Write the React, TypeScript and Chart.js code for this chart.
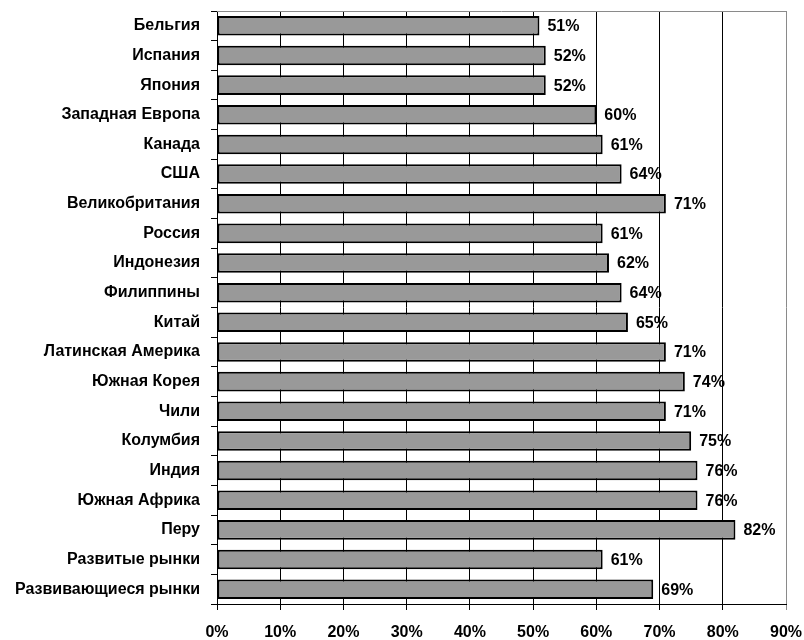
import React, { useEffect, useRef } from "react";
import { Chart, registerables } from "chart.js";

Chart.register(...registerables);

const categories: string[] = [
  "Бельгия",
  "Испания",
  "Япония",
  "Западная Европа",
  "Канада",
  "США",
  "Великобритания",
  "Россия",
  "Индонезия",
  "Филиппины",
  "Китай",
  "Латинская Америка",
  "Южная Корея",
  "Чили",
  "Колумбия",
  "Индия",
  "Южная Африка",
  "Перу",
  "Развитые рынки",
  "Развивающиеся рынки",
];

const shares: number[] = [51, 52, 52, 60, 61, 64, 71, 61, 62, 64, 65, 71, 74, 71, 75, 76, 76, 82, 61, 69];

const axisMin = 0;
const axisMax = 90;
const axisStep = 10;

const FONT = '"Liberation Sans", Arial, sans-serif';

// Writes each bar's percentage just past its end and draws the frame's top edge.
const barLabels = {
  id: "barLabels",
  afterDatasetsDraw(chart: any) {
    const { ctx, chartArea } = chart;
    ctx.save();
    ctx.strokeStyle = "#8a8a8a";
    ctx.lineWidth = 1;
    ctx.beginPath();
    ctx.moveTo(chartArea.left, chartArea.top + 0.5);
    ctx.lineTo(chartArea.right, chartArea.top + 0.5);
    ctx.stroke();

    const meta = chart.getDatasetMeta(0);
    ctx.font = `bold 16px ${FONT}`;
    ctx.fillStyle = "#000";
    ctx.textAlign = "left";
    ctx.textBaseline = "middle";
    meta.data.forEach((bar: any, i: number) => {
      ctx.fillText(`${shares[i]}%`, bar.x + 8, bar.y + 1);
    });
    ctx.restore();
  },
};

export default function App() {
  const canvasRef = useRef<HTMLCanvasElement | null>(null);

  useEffect(() => {
    if (!canvasRef.current) return;
    const chart = new Chart(canvasRef.current, {
      type: "bar",
      data: {
        labels: categories,
        datasets: [
          {
            data: shares,
            backgroundColor: "#999999",
            borderColor: "#000000",
            borderWidth: 2,
            borderSkipped: false,
            categoryPercentage: 1,
            barPercentage: 0.66,
          },
        ],
      },
      options: {
        indexAxis: "y",
        responsive: false,
        animation: false,
        layout: { padding: { top: 11, right: 18, left: 0, bottom: 0 } },
        plugins: {
          legend: { display: false },
          tooltip: { enabled: false },
        },
        scales: {
          x: {
            min: axisMin,
            max: axisMax,
            afterFit(scale: any) {
              scale.height = 36;
              scale.paddingLeft = 0;
              scale.paddingRight = 0;
            },
            ticks: {
              stepSize: axisStep,
              color: "#000",
              padding: 13,
              maxRotation: 0,
              font: { family: FONT, size: 16, weight: "bold" },
              callback: (v: any) => `${v}%`,
            },
            grid: {
              color: (c: any) => (c.tick && c.tick.value === axisMax ? "#8a8a8a" : "#000"),
              lineWidth: 1,
              tickLength: 6,
              drawTicks: true,
            },
            border: { color: "#000", width: 1 },
          },
          y: {
            afterFit(scale: any) {
              scale.width = 217;
              scale.paddingTop = 0;
              scale.paddingBottom = 0;
            },
            ticks: {
              color: "#000",
              padding: 11,
              autoSkip: false,
              font: { family: FONT, size: 16, weight: "bold" },
            },
            grid: {
              drawOnChartArea: false,
              color: "#000",
              tickLength: 6,
              offset: true,
            },
            border: { color: "#000", width: 1 },
          },
        },
      },
      plugins: [barLabels],
    });
    return () => chart.destroy();
  }, []);

  return (
    <div style={{ position: "absolute", left: 0, top: 0, width: 804, height: 640, background: "#fff" }}>
      <canvas ref={canvasRef} width={804} height={640} />
    </div>
  );
}
